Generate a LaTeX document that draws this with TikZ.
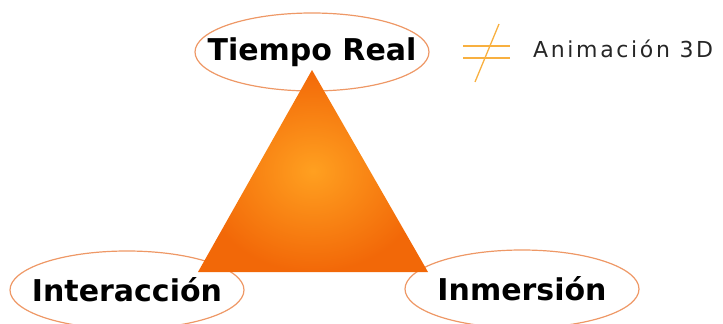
\documentclass[tikz,border=0pt]{standalone}
\usepackage{fontspec}
\setmainfont{DejaVu Sans}
\usepackage{xcolor}
\usepackage{tikz}
\usetikzlibrary{shapes.geometric,calc}
\definecolor{vrline}{HTML}{EE9866}
\definecolor{vrdark}{HTML}{F26808}
\definecolor{vrlight}{HTML}{FFA020}
\definecolor{vrsign}{HTML}{F8B040}
\tikzset{
  vr concept/.style={
    ellipse,
    minimum width=234pt,
    minimum height=78pt,
    draw=vrline,
    line width=1.2pt,
    inner xsep=-40pt,
    inner ysep=0pt,
    font=\bfseries\fontsize{30}{30}\selectfont,
  },
  vr note/.style={
    inner sep=0pt,
    anchor=base west,
    font=\fontsize{22}{22}\selectfont\addfontfeature{LetterSpace=12},
    text=black!85,
  },
  vr sign/.style={draw=vrsign, line width=1.3pt},
}

\begin{document}
\begin{tikzpicture}[x=1pt,y=-1pt]
  \useasboundingbox (0,0) rectangle (723,324);
  \node[vr concept] (tiempo) at (312,52) {Tiempo Real};
  \node[vr concept] (interaccion) at (127,290) {Interacción};
  \node[vr concept] (inmersion) at (522,289) {Inmersión};

  \coordinate (apex) at (312,70);
  \coordinate (left) at (198,272);
  \coordinate (right) at (428,272);
  \shade[inner color=vrlight, outer color=vrdark] (apex) -- (right) -- (left) -- cycle;

  % not-equal sign
  \draw[vr sign] (463,46) -- (510,46);
  \draw[vr sign] (463,58) -- (510,58);
  \draw[vr sign] (499,24) -- (475,82);
  \node[vr note] (anim) at (533,57) {Animación 3D};
\end{tikzpicture}
\end{document}
